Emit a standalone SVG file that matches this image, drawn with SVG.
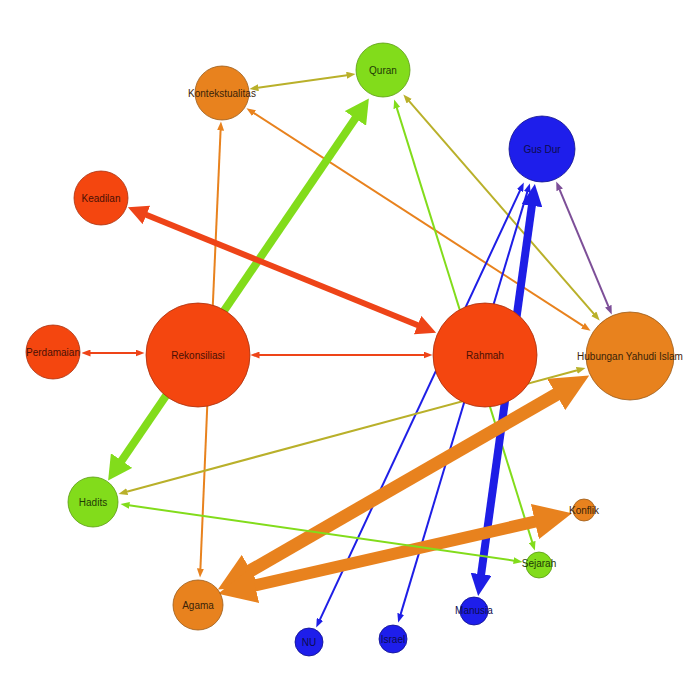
<svg xmlns="http://www.w3.org/2000/svg" width="700" height="700" viewBox="0 0 700 700">
<style>
.e{fill:none;stroke-linecap:butt}
.ol{stroke:#b9b02a;stroke-width:2}
.or{stroke:#e8821e}
.gr{stroke:#82dc1b}
.rd{stroke:#ee4418}
.bl{stroke:#1e1ee6}
.pu{stroke:#7d4f98;stroke-width:2}
.n-red{fill:#f4460f;stroke:#a8300e;stroke-width:0.8}
.n-org{fill:#e8821e;stroke:#9a5a18;stroke-width:0.8}
.n-grn{fill:#82dc1b;stroke:#5a9a12;stroke-width:0.8}
.n-blu{fill:#1e1eeb;stroke:#10108a;stroke-width:0.8}
text{font-family:"Liberation Sans",Arial,sans-serif;font-size:10px;text-anchor:middle;dominant-baseline:central}
.t-red{fill:#4a1005}
.t-org{fill:#3a2208}
.t-grn{fill:#1e3a05}
.t-blu{fill:#0c0c50}
</style>
<defs>
<marker id="m-ol" markerUnits="userSpaceOnUse" viewBox="0 0 9 7" markerWidth="9" markerHeight="7" refX="0.5" refY="3.5" orient="auto-start-reverse"><path d="M0,0L9,3.5L0,7z" fill="#b9b02a"/></marker>
<marker id="m-or" markerUnits="userSpaceOnUse" viewBox="0 0 9 7" markerWidth="9" markerHeight="7" refX="0.5" refY="3.5" orient="auto-start-reverse"><path d="M0,0L9,3.5L0,7z" fill="#e8821e"/></marker>
<marker id="m-gr" markerUnits="userSpaceOnUse" viewBox="0 0 9 7" markerWidth="9" markerHeight="7" refX="0.5" refY="3.5" orient="auto-start-reverse"><path d="M0,0L9,3.5L0,7z" fill="#82dc1b"/></marker>
<marker id="m-rd" markerUnits="userSpaceOnUse" viewBox="0 0 9 7" markerWidth="9" markerHeight="7" refX="0.5" refY="3.5" orient="auto-start-reverse"><path d="M0,0L9,3.5L0,7z" fill="#ee4418"/></marker>
<marker id="m-bl" markerUnits="userSpaceOnUse" viewBox="0 0 9 7" markerWidth="9" markerHeight="7" refX="0.5" refY="3.5" orient="auto-start-reverse"><path d="M0,0L9,3.5L0,7z" fill="#1e1ee6"/></marker>
<marker id="m-pu" markerUnits="userSpaceOnUse" viewBox="0 0 9 7" markerWidth="9" markerHeight="7" refX="0.5" refY="3.5" orient="auto-start-reverse"><path d="M0,0L9,3.5L0,7z" fill="#7d4f98"/></marker>
<marker id="M-rd" markerUnits="userSpaceOnUse" viewBox="0 0 20 20" markerWidth="20" markerHeight="20" refX="1" refY="10" orient="auto-start-reverse"><path d="M0,0L20,10L0,20z" fill="#ee4418"/></marker>
<marker id="M-gr" markerUnits="userSpaceOnUse" viewBox="0 0 24 26" markerWidth="24" markerHeight="26" refX="1" refY="13" orient="auto-start-reverse"><path d="M0,0L24,13L0,26z" fill="#82dc1b"/></marker>
<marker id="M-bl" markerUnits="userSpaceOnUse" viewBox="0 0 22 21" markerWidth="22" markerHeight="21" refX="1" refY="10.5" orient="auto-start-reverse"><path d="M0,0L22,10.5L0,21z" fill="#1e1ee6"/></marker>
<marker id="M-or" markerUnits="userSpaceOnUse" viewBox="0 0 38 36" markerWidth="38" markerHeight="36" refX="1" refY="18" orient="auto-start-reverse"><path d="M0,0L38,18L0,36z" fill="#e8821e"/></marker>
</defs>
<rect width="700" height="700" fill="#ffffff"/>
<g id="edges">
<path class="e ol" d="M257.9,87.75L347.1,75.25" marker-start="url(#m-ol)" marker-end="url(#m-ol)"/>
<path class="e or" stroke-width="2" d="M212.6,310L220.6,130" marker-end="url(#m-or)"/>
<path class="e or" stroke-width="2" d="M207.3,405L200.4,569" marker-end="url(#m-or)"/>
<path class="e or" stroke-width="2" d="M253.6,112.9L583.4,326.1" marker-start="url(#m-or)" marker-end="url(#m-or)"/>
<path class="e gr" stroke-width="8" d="M355.9,117.6L121.1,461.4" marker-start="url(#M-gr)" marker-end="url(#M-gr)"/>
<path class="e ol" d="M408.9,100.8L594.1,314.2" marker-start="url(#m-ol)" marker-end="url(#m-ol)"/>
<path class="e gr" stroke-width="2" d="M396.7,107.6L532.3,542.4" marker-start="url(#m-gr)" marker-end="url(#m-gr)"/>
<path class="e rd" stroke-width="6" d="M145.5,214.5L418.5,325.5" marker-start="url(#M-rd)" marker-end="url(#M-rd)"/>
<path class="e rd" stroke-width="2" d="M90,353L136,353" marker-start="url(#m-rd)" marker-end="url(#m-rd)"/>
<path class="e rd" stroke-width="2" d="M259,355L424,355" marker-start="url(#m-rd)" marker-end="url(#m-rd)"/>
<path class="e bl" stroke-width="2" d="M520.2,190.2L319.8,619.8" marker-start="url(#m-bl)" marker-end="url(#m-bl)"/>
<path class="e bl" stroke-width="2" d="M527.4,191.6L400.6,614.4" marker-start="url(#m-bl)" marker-end="url(#m-bl)"/>
<path class="e bl" stroke-width="8" d="M532,204.8L481,575.2" marker-start="url(#M-bl)" marker-end="url(#M-bl)"/>
<path class="e pu" d="M559.5,189.3L608.5,306.7" marker-start="url(#m-pu)" marker-end="url(#m-pu)"/>
<path class="e or" stroke-width="13" d="M557.1,394L249.9,571" marker-start="url(#M-or)" marker-end="url(#M-or)"/>
<path class="e or" stroke-width="12" d="M254.1,585.6L535.9,521.4" marker-start="url(#M-or)" marker-end="url(#M-or)"/>
<path class="e ol" d="M577.3,370.3L126.7,491.7" marker-start="url(#m-ol)" marker-end="url(#m-ol)"/>
<path class="e gr" stroke-width="2" d="M514.1,560.7L128.9,505.3" marker-start="url(#m-gr)" marker-end="url(#m-gr)"/>
</g>
<g id="n-quran"><circle class="n-grn" cx="383" cy="70" r="27"/><text class="t-grn" x="383" y="70">Quran</text></g>
<g id="n-kontekstualitas"><circle class="n-org" cx="222" cy="93" r="27"/><text class="t-org" x="222" y="93">Kontekstualitas</text></g>
<g id="n-gusdur"><circle class="n-blu" cx="542" cy="149" r="33"/><text class="t-blu" x="542" y="149">Gus Dur</text></g>
<g id="n-keadilan"><circle class="n-red" cx="101" cy="198" r="27"/><text class="t-red" x="101" y="198">Keadilan</text></g>
<g id="n-perdamaian"><circle class="n-red" cx="53" cy="352" r="27"/><text class="t-red" x="53" y="352">Perdamaian</text></g>
<g id="n-rekonsiliasi"><circle class="n-red" cx="198" cy="355" r="52"/><text class="t-red" x="198" y="355">Rekonsiliasi</text></g>
<g id="n-rahmah"><circle class="n-red" cx="485" cy="355" r="52"/><text class="t-red" x="485" y="355">Rahmah</text></g>
<g id="n-hubungan"><circle class="n-org" cx="630" cy="356" r="44"/><text class="t-org" x="630" y="356">Hubungan Yahudi Islam</text></g>
<g id="n-hadits"><circle class="n-grn" cx="93" cy="502" r="25"/><text class="t-grn" x="93" y="502">Hadits</text></g>
<g id="n-agama"><circle class="n-org" cx="198" cy="605" r="25"/><text class="t-org" x="198" y="605">Agama</text></g>
<g id="n-konflik"><circle class="n-org" cx="584" cy="510" r="11"/><text class="t-org" x="584" y="510">Konflik</text></g>
<g id="n-sejarah"><circle class="n-grn" cx="539" cy="565" r="13"/><text class="t-grn" x="539" y="563">Sejarah</text></g>
<g id="n-manusia"><circle class="n-blu" cx="474" cy="611" r="14"/><text class="t-blu" x="474" y="610">Manusia</text></g>
<g id="n-israel"><circle class="n-blu" cx="393" cy="639" r="14"/><text class="t-blu" x="393" y="639">Israel</text></g>
<g id="n-nu"><circle class="n-blu" cx="309" cy="642" r="14"/><text class="t-blu" x="309" y="642">NU</text></g>
</svg>
